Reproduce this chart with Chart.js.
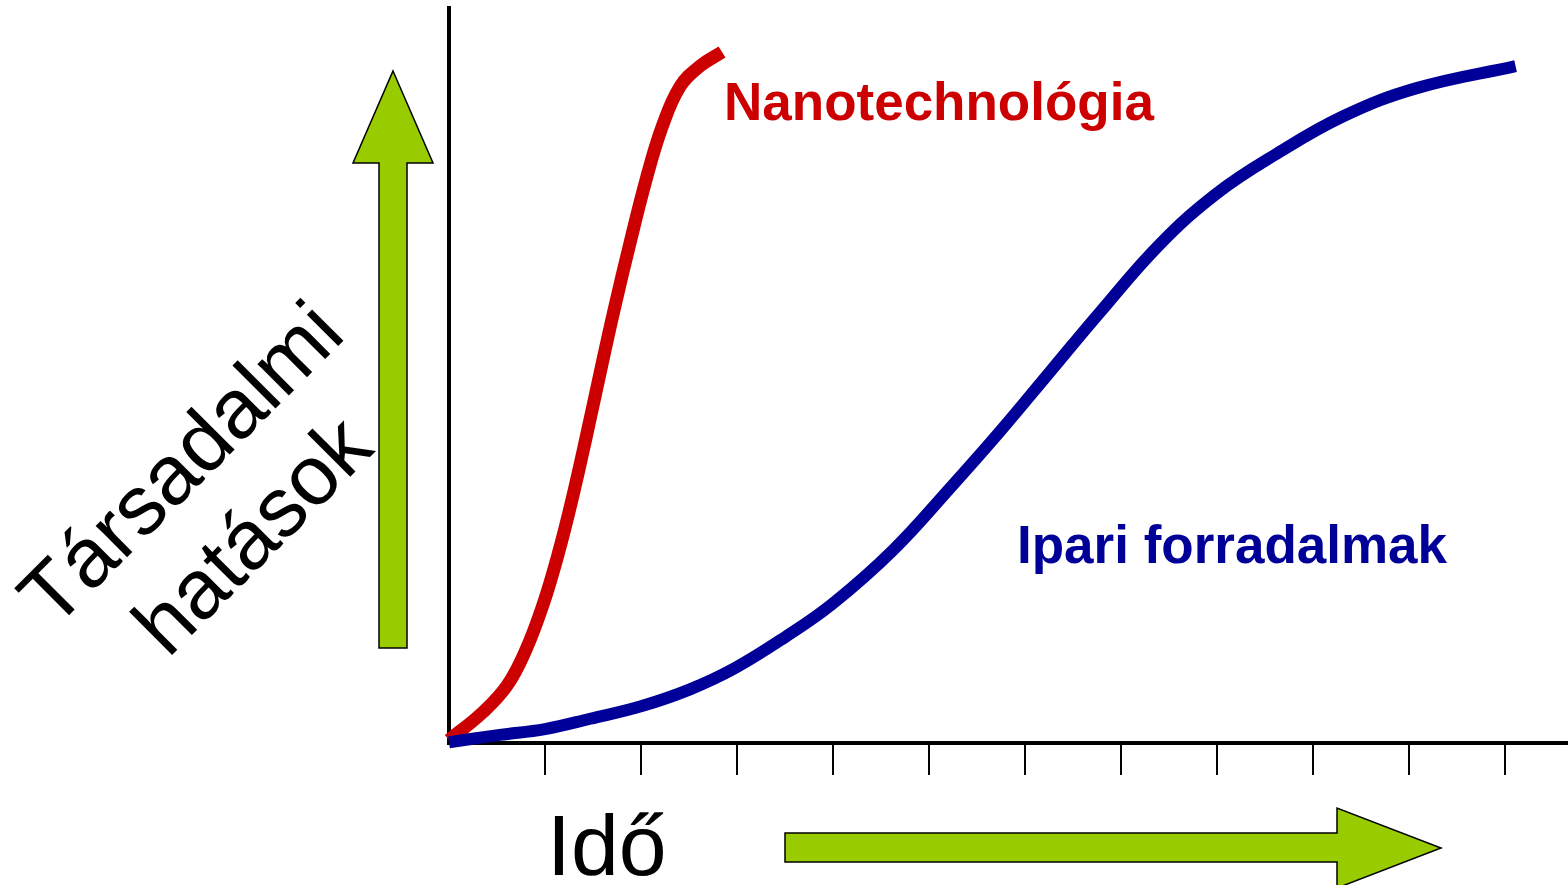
<!DOCTYPE html>
<html>
<head>
<meta charset="utf-8">
<title>Társadalmi hatások</title>
<script src="https://cdn.jsdelivr.net/npm/chart.js@4/dist/chart.umd.min.js"></script>
<style>
    body { margin: 0; background: #fff; }
    #wrap { position: relative; width: 1568px; height: 885px; overflow: hidden; font-family: "Liberation Sans", Arial, sans-serif; }
    #chart { position: absolute; left: 0; top: 0; }
    #arrows { position: absolute; left: 0; top: 0; }
    .label { position: absolute; white-space: nowrap; }
    #yTitle {
        left: 216px; top: 499px; width: 600px;
        font-size: 84px; line-height: 100.8px; text-align: center; color: #000;
        transform: translate(-50%, -50%) rotate(-45deg);
    }
    #xTitle { left: 547px; top: 802px; font-size: 86px; line-height: 86px; color: #000; }
    #nanoLabel { left: 724px; top: 75px; font-size: 53px; line-height: 53px; font-weight: bold; color: #cc0000; }
    #ipariLabel { left: 1017px; top: 518px; font-size: 53px; line-height: 53px; font-weight: bold; color: #000099; }
</style>
</head>
<body>
<div id="wrap">
    <canvas id="chart" width="1568" height="885"></canvas>
    <svg id="arrows" width="1568" height="885">
        <polygon points="393,71 433,163 407,163 407,648 379,648 379,163 353,163"
                 fill="#99cc00" stroke="#000" stroke-width="1.5" stroke-linejoin="miter"/>
        <polygon points="785,833 1337,833 1337,808 1441,848 1337,888 1337,862 785,862"
                 fill="#99cc00" stroke="#000" stroke-width="1.5" stroke-linejoin="miter"/>
    </svg>
    <div class="label" id="yTitle">Társadalmi<br>hatások</div>
    <div class="label" id="xTitle">Idő</div>
    <div class="label" id="nanoLabel">Nanotechnológia</div>
    <div class="label" id="ipariLabel">Ipari forradalmak</div>
</div>
<script>
// Values (x: time ticks, y: impact 0-100)
const redX = [0, 0.354, 0.604, 0.802, 0.979, 1.135, 1.281, 1.427, 1.573, 1.719, 1.885, 2.052, 2.219, 2.406, 2.615, 2.844];
const redY = [0.4, 4.2, 7.8, 12.7, 18.8, 25.6, 33.1, 41.5, 50.3, 58.9, 68.0, 76.6, 83.8, 89.3, 92.1, 94.0];

const blueX = [0, 0.53, 1.0, 1.47, 2.0, 2.51, 2.98, 3.5, 4.0, 4.63, 5.22, 5.74, 6.26, 6.78, 7.4, 8.0, 8.6, 9.32, 10.08, 11.11];
const blueY = [0.1, 1.1, 1.9, 3.3, 5.0, 7.3, 10.2, 14.4, 19.0, 26.3, 34.7, 42.4, 50.5, 58.6, 67.8, 74.8, 80.0, 85.3, 89.1, 92.1];

const xMax = 11.656;   // axis runs past the last tick to the edge
const yMax = 100;

function toPoints(xs, ys) {
    return xs.map((x, i) => ({ x: x, y: ys[i] }));
}

const tickColor = function(ctx) {
    if (ctx.tick && ctx.tick.value > 0 && Number.isInteger(ctx.tick.value)) {
        return '#000';
    }
    return 'rgba(0,0,0,0)';
};

new Chart(document.getElementById('chart').getContext('2d'), {
    type: 'line',
    data: {
        datasets: [
            {
                label: 'Nanotechnológia',
                data: toPoints(redX, redY),
                borderColor: '#cc0000',
                borderWidth: 13,
                tension: 0.4,
                pointRadius: 0,
                fill: false,
                clip: false,
                order: 2
            },
            {
                label: 'Ipari forradalmak',
                data: toPoints(blueX, blueY),
                borderColor: '#000099',
                borderWidth: 12,
                tension: 0.4,
                pointRadius: 0,
                fill: false,
                clip: false,
                order: 1
            }
        ]
    },
    options: {
        responsive: false,
        animation: false,
        layout: {
            autoPadding: false,
            padding: { left: 449, top: 8, right: 0, bottom: 110 }
        },
        plugins: {
            legend: { display: false },
            tooltip: { enabled: false }
        },
        scales: {
            x: {
                type: 'linear',
                min: 0,
                max: xMax,
                z: 1,
                ticks: { display: false, stepSize: 1, includeBounds: false },
                grid: {
                    drawOnChartArea: false,
                    drawTicks: true,
                    tickLength: 32,
                    lineWidth: 2,
                    color: tickColor
                },
                border: { display: true, color: '#000', width: 4 }
            },
            y: {
                type: 'linear',
                min: 0,
                max: yMax,
                z: 1,
                ticks: { display: false },
                grid: { display: false, drawTicks: false },
                border: { display: true, color: '#000', width: 4 }
            }
        }
    }
});
</script>
</body>
</html>
